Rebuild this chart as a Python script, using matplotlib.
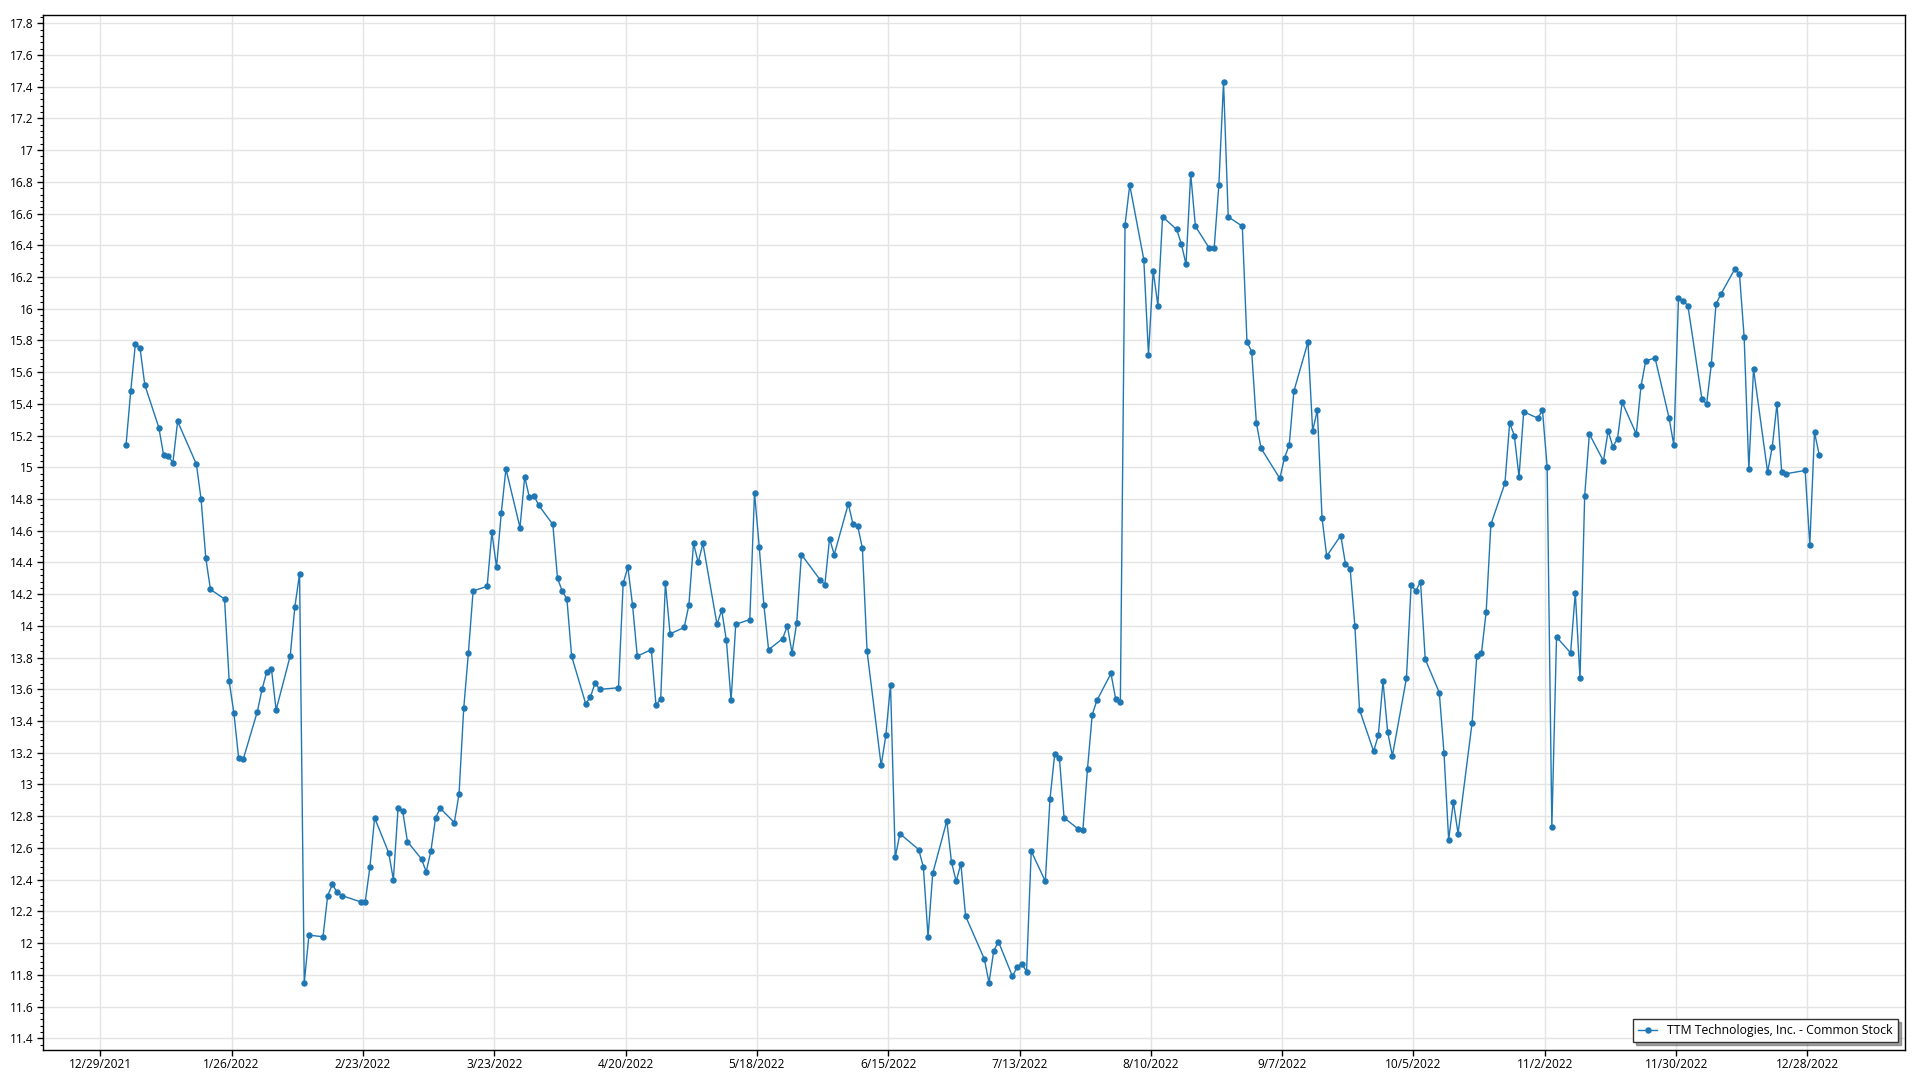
import matplotlib
matplotlib.use("Agg")
import matplotlib.pyplot as plt
from matplotlib.ticker import MultipleLocator, FuncFormatter
import pandas as pd

plt.rcParams['font.family'] = ['Open Sans', 'DejaVu Sans']

# NYSE market holidays in 2022 (trading days are used as the x categories)
holidays = ["2022-01-17", "2022-02-21", "2022-04-15", "2022-05-30", "2022-06-20",
            "2022-07-04", "2022-09-05", "2022-11-24", "2022-12-26"]
start_date = "2022-01-03"
end_date = "2022-12-30"

jan = [15.14, 15.48, 15.78, 15.75, 15.52, 15.25, 15.08, 15.07, 15.03, 15.29, 15.02, 14.80, 14.43, 14.23,
       14.17, 13.65, 13.45, 13.17, 13.16, 13.46]
feb = [13.60, 13.71, 13.73, 13.47, 13.81, 14.12, 14.33, 11.75, 12.05, 12.04, 12.30, 12.37, 12.32, 12.30,
       12.26, 12.26, 12.48, 12.79, 12.57]
mar = [12.40, 12.85, 12.83, 12.64, 12.53, 12.45, 12.58, 12.79, 12.85, 12.76, 12.94, 13.48, 13.83, 14.22,
       14.25, 14.59, 14.37, 14.71, 14.99, 14.62, 14.94, 14.81, 14.82]
apr = [14.76, 14.64, 14.30, 14.22, 14.17, 13.81, 13.51, 13.55, 13.64, 13.60, 13.61, 14.27, 14.37, 14.13,
       13.81, 13.85, 13.50, 13.54, 14.27, 13.95]
may = [13.99, 14.13, 14.52, 14.40, 14.52, 14.01, 14.10, 13.91, 13.53, 14.01, 14.04, 14.84, 14.50, 14.13,
       13.85, 13.92, 14.00, 13.83, 14.02, 14.45, 14.29]
jun = [14.26, 14.55, 14.45, 14.77, 14.64, 14.63, 14.49, 13.84, 13.12, 13.31, 13.63, 12.54, 12.69, 12.59,
       12.48, 12.04, 12.44, 12.77, 12.51, 12.39, 12.50]
jul = [12.17, 11.90, 11.75, 11.95, 12.01, 11.79, 11.85, 11.87, 11.82, 12.58, 12.39, 12.91, 13.19, 13.17,
       12.79, 12.72, 12.71, 13.10, 13.44, 13.53]
aug = [13.70, 13.54, 13.52, 16.53, 16.78, 16.31, 15.71, 16.24, 16.02, 16.58, 16.50, 16.41, 16.28, 16.85,
       16.52, 16.38, 16.38, 16.78, 17.43, 16.58, 16.52, 15.79, 15.73]
sep = [15.28, 15.12, 14.93, 15.06, 15.14, 15.48, 15.79, 15.23, 15.36, 14.68, 14.44, 14.57, 14.39, 14.36,
       14.00, 13.47, 13.21, 13.31, 13.65, 13.33, 13.18]
oct_ = [13.67, 14.26, 14.22, 14.28, 13.79, 13.58, 13.20, 12.65, 12.89, 12.69, 13.39, 13.81, 13.83, 14.09,
        14.64, 14.90, 15.28, 15.20, 14.94, 15.35, 15.31]
nov = [15.36, 15.00, 12.73, 13.93, 13.83, 14.21, 13.67, 14.82, 15.21, 15.04, 15.23, 15.13, 15.18, 15.41,
       15.21, 15.51, 15.67, 15.69, 15.31, 15.14, 16.07]
dec = [16.05, 16.02, 15.43, 15.40, 15.65, 16.03, 16.09, 16.25, 16.22, 15.82, 14.99, 15.62, 14.97, 15.13,
       15.40, 14.97, 14.96, 14.98, 14.51, 15.22, 15.08]

series_name = "TTM Technologies, Inc. - Common Stock"
prices = jan + feb + mar + apr + may + jun + jul + aug + sep + oct_ + nov + dec
# trading days; quotes are stamped at midday
dates = pd.bdate_range(start_date, end_date, freq="C", holidays=holidays) + pd.Timedelta(hours=12)

x_tick_dates = pd.date_range("2021-12-29", periods=14, freq="28D")

fig = plt.figure(figsize=(19.2, 10.8), dpi=100)
ax = fig.add_axes([0.0224, 0.0278, 0.9698, 0.958])

color = "#1f77b4"
ax.plot(dates, prices, color=color, lw=1.0, marker="o", ms=3.6, mec=color, mfc=color,
        label=series_name, zorder=3)

ax.set_xlim(pd.Timestamp("2021-12-29") - pd.Timedelta(days=12.2),
            pd.Timestamp("2021-12-29") + pd.Timedelta(days=384.8))
ax.set_ylim(11.326, 17.85)

ax.set_xticks(x_tick_dates)
ax.set_xticklabels([f"{d.month}/{d.day}/{d.year}" for d in x_tick_dates])
ax.yaxis.set_major_locator(MultipleLocator(0.2))
ax.yaxis.set_minor_locator(MultipleLocator(0.04))
ax.yaxis.set_major_formatter(FuncFormatter(lambda v, p: f"{round(v, 1):g}"))

ax.grid(True, which="major", color="#e4e4e4", lw=1.0, zorder=0)
ax.set_axisbelow(True)
ax.tick_params(axis="both", which="major", direction="out", length=4, width=1, labelsize=8.6,
               colors="black", pad=3)
ax.tick_params(axis="x", which="major", pad=1.5)
ax.tick_params(axis="y", which="minor", direction="out", length=2.5, width=0.8)
for s in ax.spines.values():
    s.set_color("black")
    s.set_linewidth(1.0)

leg = ax.legend(loc="lower right", fontsize=8.8, frameon=True, fancybox=False, shadow=True,
                borderpad=0.42, handlelength=1.6, borderaxespad=0,
                bbox_to_anchor=(0.9962, 0.0077))
leg.get_frame().set_edgecolor("#333333")
leg.get_frame().set_linewidth(1.0)

fig.savefig("out.png", dpi=100)
